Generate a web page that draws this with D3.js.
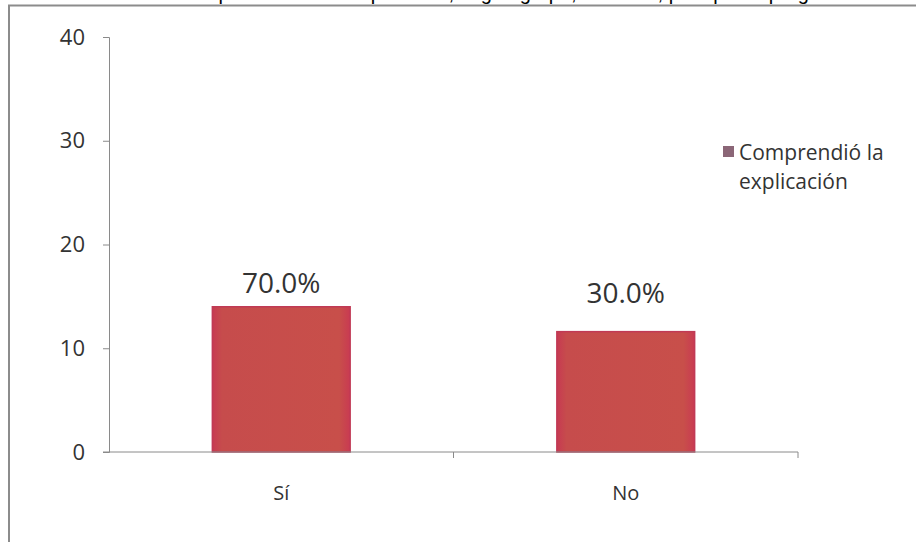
<!DOCTYPE html>
<html><head><meta charset="utf-8">
<script src="https://cdn.jsdelivr.net/npm/d3@7"></script>
<style>html,body{margin:0;padding:0;background:#fff;overflow:hidden}svg{display:block}</style>
</head><body>
<svg id="c" width="916" height="542"></svg>
<script>
const categories = ["Sí", "No"];
const values = [14, 11.6];
const valueLabels = ["70.0%", "30.0%"];
const yTicks = [0, 10, 20, 30, 40];
const seriesName = ["Comprendió la", "explicación"];
const titleText = "Comprensión de la explicación, según grupo, Sociales, por tipo de pregunta";

const svg = d3.select("#c");
const W = 916, H = 542;

// title, clipped by the top edge as in the reference
svg.append("text").attr("x", 512).attr("y", -0.5).attr("text-anchor", "middle")
  .attr("font-family", "Liberation Sans, Arial, sans-serif").attr("font-size", 20)
  .attr("fill", "#000").text(titleText);

// frame
svg.append("rect").attr("x", 0).attr("y", 5).attr("width", W).attr("height", H).attr("fill", "#fff");
svg.append("line").attr("x1", 8).attr("x2", W).attr("y1", 5.5).attr("y2", 5.5).attr("stroke", "#8c8c8c").attr("stroke-width", 2);
svg.append("line").attr("x1", 9).attr("x2", 9).attr("y1", 5).attr("y2", H).attr("stroke", "#8c8c8c").attr("stroke-width", 2);

const x0 = 109, x1 = 798, yTop = 37, yBot = 452;
const x = d3.scaleBand().domain(categories).range([x0, x1]).paddingInner(0.6).paddingOuter(0.3);
const y = d3.scaleLinear().domain([0, 40]).range([yBot, yTop]);

const defs = svg.append("defs");
const g1 = defs.append("linearGradient").attr("id", "bg").attr("x1", 0).attr("x2", 1).attr("y1", 0).attr("y2", 0);
g1.append("stop").attr("offset", "0").attr("stop-color", "#c73a52");
g1.append("stop").attr("offset", "0.07").attr("stop-color", "#c64c4c");
g1.append("stop").attr("offset", "0.92").attr("stop-color", "#c84f4a");
g1.append("stop").attr("offset", "1").attr("stop-color", "#c93a52");

// bars
svg.selectAll(".bar").data(values).join("rect")
  .attr("x", (d, i) => x(categories[i]))
  .attr("y", d => y(d))
  .attr("width", x.bandwidth())
  .attr("height", d => y(0) - y(d))
  .attr("fill", "url(#bg)")
  .attr("stroke", "#c03a55").attr("stroke-width", 1.5);

// value labels
svg.selectAll(".vl").data(values).join("text")
  .attr("x", (d, i) => x(categories[i]) + x.bandwidth() / 2)
  .attr("y", (d, i) => y(d) - (i === 0 ? 14 : 29))
  .attr("text-anchor", "middle")
  .attr("font-family", "Open Sans, sans-serif").attr("font-size", 28)
  .attr("fill", "#333").text((d, i) => valueLabels[i]);

// y axis
const yAxis = d3.axisLeft(y).tickValues(yTicks).tickSize(6).tickPadding(18).tickFormat(d3.format("d"));
const ya = svg.append("g").attr("transform", `translate(${x0},0)`).call(yAxis);
ya.select(".domain").attr("stroke", "#8a8a8a");
ya.selectAll(".tick line").attr("stroke", "#8a8a8a");
ya.selectAll("text").attr("font-family", "Open Sans, sans-serif").attr("font-size", 22).attr("fill", "#333");

// x axis
const xa = svg.append("g").attr("transform", `translate(0,${yBot})`);
xa.append("line").attr("x1", x0 - 6).attr("x2", x1).attr("y1", 0).attr("y2", 0).attr("stroke", "#8a8a8a");
xa.selectAll(".xt").data([(x0 + x1) / 2, x1]).join("line")
  .attr("x1", d => d).attr("x2", d => d).attr("y1", 0).attr("y2", 6).attr("stroke", "#8a8a8a");
xa.selectAll(".xl").data(categories).join("text")
  .attr("x", d => x(d) + x.bandwidth() / 2).attr("y", 48)
  .attr("text-anchor", "middle")
  .attr("font-family", "Open Sans, sans-serif").attr("font-size", 20).attr("fill", "#333").text(d => d);

// legend
const lg = svg.append("g");
lg.append("rect").attr("x", 723).attr("y", 146).attr("width", 11).attr("height", 11).attr("fill", "#8b6677");
lg.selectAll("text").data(seriesName).join("text")
  .attr("x", 739).attr("y", (d, i) => 160 + i * 29)
  .attr("font-family", "Open Sans, sans-serif").attr("font-size", 21).attr("fill", "#333").text(d => d);
</script>
</body></html>
